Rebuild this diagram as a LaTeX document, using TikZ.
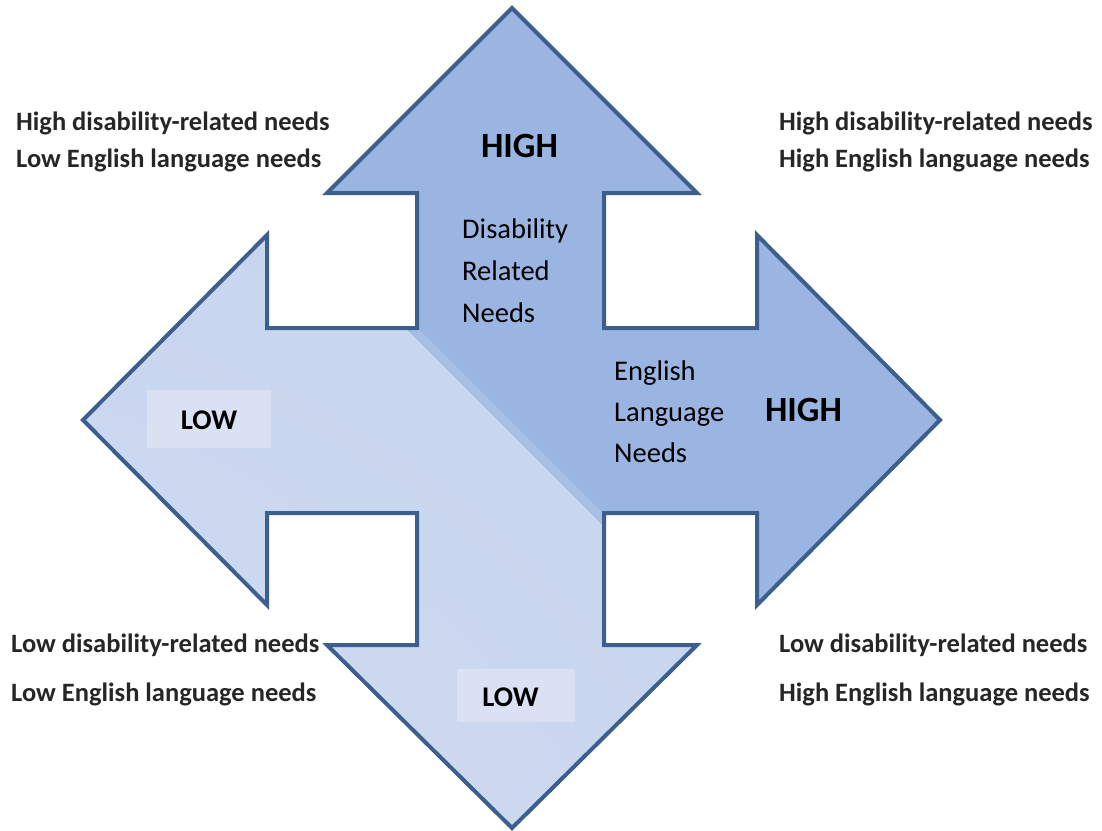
\documentclass[tikz,border=0pt]{standalone}
\usepackage{fontspec}
\setmainfont{Carlito}
\usetikzlibrary{shadings}
\definecolor{edge}{HTML}{3C5F8E}
\definecolor{darkfill}{HTML}{9BB5E3}
\definecolor{midfill}{HTML}{A7BEE6}
\definecolor{lightfill}{HTML}{C5D3EE}
\definecolor{lightfillB}{HTML}{D2DDF2}
\definecolor{boxfill}{HTML}{DAE1F3}
\definecolor{labelgray}{HTML}{262626}
\begin{document}
\begin{tikzpicture}[x=1pt,y=-1pt,
  corner/.style={anchor=base west,inner sep=0pt,text=labelgray,font=\fontsize{26.5}{30}\selectfont\bfseries},
  inner/.style={anchor=base west,inner sep=0pt,text=black,font=\fontsize{28.5}{32}\selectfont},
  big/.style={anchor=base,inner sep=0pt,text=black,font=\fontsize{35.5}{40}\selectfont\bfseries},
  lowbox/.style={fill=boxfill,draw=none},
  lowtxt/.style={anchor=base,inner sep=0pt,text=black,font=\fontsize{28.5}{32}\selectfont\bfseries}]
\useasboundingbox (0,0) rectangle (1102,830);
\def\cross{(512,8) -- (697,193) -- (604,193) -- (604,328) -- (757,328) -- (757,235) -- (940,420) -- (757,605) -- (757,513) -- (604,513) -- (604,645) -- (697,645) -- (512,828) -- (327,645) -- (417,645) -- (417,513) -- (267,513) -- (267,605) -- (83,420) -- (267,235) -- (267,328) -- (417,328) -- (417,193) -- (327,193) -- cycle}
\begin{scope}
  \clip \cross;
  \shade[upper right=lightfill, lower left=lightfillB, upper left=lightfill, lower right=lightfill] (0,0) rectangle (1102,830);
  \fill[darkfill] (-100,-189) -- (1200,1111) -- (1200,-189) -- cycle;
  \draw[midfill,line width=8pt] (-100,-183) -- (1200,1117);
\end{scope}
\draw[edge,line width=4pt,line join=miter] \cross;
\fill[lowbox] (147,390) rectangle (271,447.5);
\fill[lowbox] (457,669) rectangle (575,722);
\node[lowtxt] (lowl) at (209,429) {LOW};
\node[lowtxt] (lowb) at (510.5,706.5) {LOW};
\node[big] (hightop) at (519.5,157) {HIGH};
\node[big] (highright) at (803.5,421) {HIGH};
\node[inner] (d1) at (462,238) {Disability};
\node[inner] (d2) at (462,280) {Related};
\node[inner] (d3) at (462,322) {Needs};
\node[inner] (e1) at (614,380) {English};
\node[inner] (e2) at (614,421) {Language};
\node[inner] (e3) at (614,462) {Needs};
\node[corner] (tl1) at (16,130) {High disability-related needs};
\node[corner] (tl2) at (16,167) {Low English language needs};
\node[corner] (tr1) at (779,130) {High disability-related needs};
\node[corner] (tr2) at (779,167) {High English language needs};
\node[corner] (bl1) at (11,652) {Low disability-related needs};
\node[corner] (bl2) at (11,701) {Low English language needs};
\node[corner] (br1) at (779,652) {Low disability-related needs};
\node[corner] (br2) at (779,701) {High English language needs};
\end{tikzpicture}
\end{document}
